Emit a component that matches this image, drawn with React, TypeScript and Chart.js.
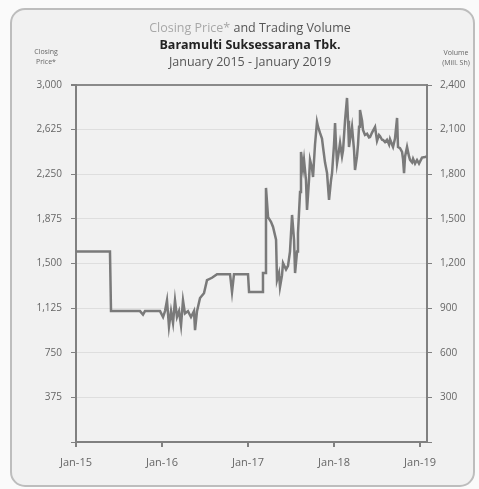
import React, { useEffect, useRef } from "react";
import { Chart, registerables } from "chart.js";

Chart.register(...registerables);

// Decimal years (Jan-15 = 2015.0)
const dates: number[] = [
  2015.0, 2015.395, 2015.407, 2015.744, 2015.779, 2015.802, 2015.977, 2016.012, 2016.035, 2016.058,
  2016.081, 2016.105, 2016.128, 2016.151, 2016.174, 2016.198, 2016.221, 2016.244, 2016.267, 2016.302,
  2016.337, 2016.372, 2016.384, 2016.407, 2016.442, 2016.488, 2016.523, 2016.581, 2016.64, 2016.791,
  2016.814, 2016.837, 2017.0, 2017.012, 2017.163, 2017.174, 2017.198, 2017.209, 2017.233, 2017.267,
  2017.291, 2017.326, 2017.337, 2017.36, 2017.372, 2017.395, 2017.407, 2017.442, 2017.465, 2017.488,
  2017.512, 2017.535, 2017.547, 2017.57, 2017.581, 2017.605, 2017.616, 2017.64, 2017.651, 2017.674,
  2017.686, 2017.709, 2017.721, 2017.744, 2017.756, 2017.779, 2017.802, 2017.814, 2017.837, 2017.86,
  2017.872, 2017.895, 2017.919, 2017.93, 2017.942, 2017.965, 2017.977, 2018.0, 2018.012, 2018.023,
  2018.035, 2018.058, 2018.07, 2018.093, 2018.105, 2018.128, 2018.151, 2018.163, 2018.174, 2018.198,
  2018.209, 2018.233, 2018.244, 2018.267, 2018.279, 2018.291, 2018.302, 2018.326, 2018.337, 2018.36,
  2018.384, 2018.407, 2018.419, 2018.442, 2018.477, 2018.5, 2018.523, 2018.535, 2018.558, 2018.57,
  2018.593, 2018.616, 2018.64, 2018.651, 2018.674, 2018.686, 2018.709, 2018.733, 2018.744, 2018.767,
  2018.791, 2018.802, 2018.814, 2018.826, 2018.849, 2018.872, 2018.884, 2018.907, 2018.919, 2018.942,
  2018.965, 2018.988, 2019.023, 2019.058, 2019.081,
];

const prices: number[] = [
  1600, 1600, 1100, 1100, 1070, 1100, 1100, 1050, 1100, 1190,
  970, 1100, 1000, 1190, 1050, 1100, 980, 1190, 1080, 1100,
  1050, 1100, 940, 1100, 1210, 1250, 1360, 1380, 1410, 1410,
  1260, 1410, 1410, 1260, 1260, 1420, 1420, 2135, 1890, 1850,
  1807, 1700, 1361, 1420, 1303, 1400, 1504, 1450, 1480, 1600,
  1908, 1700, 1420, 1600, 1756, 2100, 2437, 2300, 2370, 2200,
  1950, 2200, 2370, 2300, 2227, 2500, 2689, 2650, 2597, 2550,
  2479, 2350, 2260, 2150, 2034, 2200, 2260, 2500, 2681, 2500,
  2344, 2450, 2513, 2400, 2450, 2700, 2891, 2700, 2479, 2600,
  2650, 2450, 2286, 2400, 2500, 2650, 2790, 2700, 2622, 2580,
  2590, 2560, 2563, 2600, 2647, 2530, 2580, 2570, 2540, 2538,
  2520, 2540, 2500, 2545, 2500, 2479, 2550, 2723, 2479, 2470,
  2437, 2380, 2260, 2400, 2480, 2400, 2370, 2350, 2380, 2340,
  2370, 2340, 2390, 2395, 2400,
];

const xTickYears: number[] = [2015, 2016, 2017, 2018, 2019];
const xTickLabels: string[] = ["Jan-15", "Jan-16", "Jan-17", "Jan-18", "Jan-19"];
const priceMax = 3000;
const priceStep = 375;
const volumeMax = 2400;
const volumeStep = 300;

const FONT = "'Open Sans', 'DejaVu Sans', sans-serif";

export default function App() {
  const ref = useRef<HTMLCanvasElement | null>(null);

  useEffect(() => {
    if (!ref.current) return;
    const chart = new Chart(ref.current, {
      type: "line",
      data: {
        datasets: [
          {
            data: dates.map((d, i) => ({ x: d, y: prices[i] })),
            borderColor: "#7a7a7a",
            borderWidth: 2.5,
            pointRadius: 0,
            tension: 0,
            yAxisID: "y",
          },
        ],
      },
      options: {
        animation: false,
        responsive: false,
        devicePixelRatio: 1,
        layout: { padding: { top: 85, left: 0, right: 0, bottom: 0 } },
        plugins: { legend: { display: false }, tooltip: { enabled: false }, title: { display: false } },
        scales: {
          x: {
            type: "linear",
            min: 2015,
            max: 2019.081,
            afterFit: (s: any) => {
              s.height = 47;
            },
            afterBuildTicks: (s: any) => {
              s.ticks = xTickYears.map((v) => ({ value: v }));
            },
            border: { color: "#808080", width: 2 },
            grid: {
              drawOnChartArea: false,
              tickLength: 5,
              tickColor: "#808080",
              lineWidth: 2,
            },
            ticks: {
              padding: 9,
              color: "#666",
              font: { family: FONT, size: 11 },
              maxRotation: 0,
              callback: (v: any) => {
                const i = xTickYears.indexOf(Number(v));
                return i >= 0 ? xTickLabels[i] : "";
              },
            },
          },
          y: {
            position: "left",
            min: 0,
            max: priceMax,
            afterFit: (s: any) => {
              s.width = 76;
            },
            border: { color: "#808080", width: 2 },
            grid: {
              color: (c: any) => (c.tick && c.tick.value === priceMax ? "#8a8a8a" : "#dedede"),
              lineWidth: (c: any) => (c.tick && c.tick.value === priceMax ? 2 : 1),
              tickLength: 5,
              tickColor: "#808080",
            },
            ticks: {
              stepSize: priceStep,
              padding: 9,
              color: "#666",
              font: { family: FONT, size: 10 },
              callback: (v: any) => (Number(v) === 0 ? "" : Number(v).toLocaleString("en-US")),
            },
          },
          y2: {
            position: "right",
            min: 0,
            max: volumeMax,
            afterFit: (s: any) => {
              s.width = 52;
            },
            border: { color: "#808080", width: 2 },
            grid: {
              drawOnChartArea: false,
              tickLength: 5,
              tickColor: "#808080",
            },
            ticks: {
              stepSize: volumeStep,
              padding: 8,
              color: "#666",
              font: { family: FONT, size: 10 },
              callback: (v: any) => (Number(v) === 0 ? "" : Number(v).toLocaleString("en-US")),
            },
          },
        },
      },
    } as any);
    return () => chart.destroy();
  }, []);

  const abs = (s: React.CSSProperties): React.CSSProperties => ({ position: "absolute", ...s });

  return (
    <div style={abs({ left: 0, top: 0, width: 479, height: 489, background: "#fafafa", fontFamily: FONT })}>
      <div
        style={abs({
          left: 10,
          top: 8,
          width: 465,
          height: 479,
          boxSizing: "border-box",
          border: "2px solid #bdbdbd",
          borderRadius: 15,
          background: "#f1f1f1",
        })}
      />
      <canvas ref={ref} width={479} height={489} style={abs({ left: 0, top: 0, width: 479, height: 489 })} />
      <div style={abs({ left: 0, width: 500, top: 19, textAlign: "center", fontSize: 12.5, lineHeight: "17px" })}>
        <div>
          <span style={{ color: "#a8a8a8" }}>Closing Price*</span>
          <span style={{ color: "#555" }}> and Trading Volume</span>
        </div>
        <div style={{ fontWeight: 700, color: "#222" }}>Baramulti Suksessarana Tbk.</div>
        <div style={{ color: "#555" }}>January 2015 - January 2019</div>
      </div>
      <div style={abs({ left: 26, width: 40, top: 47, textAlign: "center", fontSize: 7, lineHeight: "10px", color: "#666" })}>
        Closing
        <br />
        Price*
      </div>
      <div style={abs({ left: 436, width: 40, top: 48, textAlign: "center", fontSize: 7, lineHeight: "10px", color: "#666" })}>
        Volume
        <br />
        (Mill. Sh)
      </div>
    </div>
  );
}
